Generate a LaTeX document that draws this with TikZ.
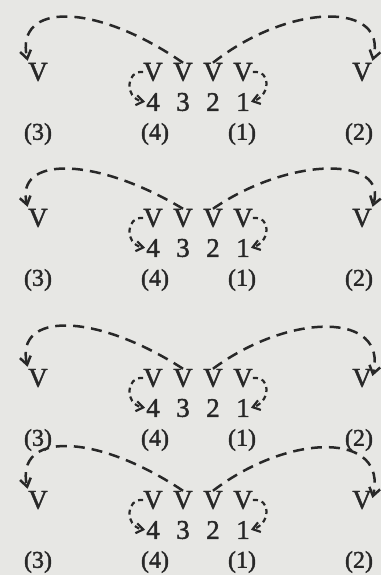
\documentclass[tikz,border=0pt]{standalone}
\usepackage{fontspec}
\setmainfont{Liberation Serif}
\newfontfamily\printface{Liberation Serif}[FakeBold=1.6]
\usetikzlibrary{arrows.meta}
\definecolor{paper}{RGB}{231,231,228}
\definecolor{ink}{RGB}{40,40,40}

\begin{document}
\begin{tikzpicture}[x=1pt,y=1pt]
	\tikzset{letter/.style={inner sep=0pt, text=ink, font=\printface\fontsize{27}{30}\selectfont},
		tag/.style={inner sep=0pt, text=ink, font=\printface\fontsize{24}{28}\selectfont},
		hop/.style={ink, line width=2.5pt, dash pattern=on 11pt off 7pt, shorten >=2pt,
			-{Straight Barb[length=8pt, width=11pt]}},
		curl/.style={ink, line width=2.2pt, dash pattern=on 5pt off 4pt, shorten >=1pt,
			-{Straight Barb[length=7pt, width=10pt]}}}
	\fill[paper] (0,0) rectangle (381,-575);
	\useasboundingbox (0,0) rectangle (381,-575);
	% one panel per row: V row height, arc control height, end anchor on the right
	\foreach \py/\cy/\ra [count=\i] in {72/70/north east, 218/62/north east, 378/66/east, 500/68/east} {
		\begin{scope}[shift={(0,-\py)}]
		% the V row
		\node[letter] (vl\i) at (38,0) {V};
		\node[letter] (v4\i) at (153,0) {V};
		\node[letter] (v3\i) at (183,0) {V};
		\node[letter] (v2\i) at (213,0) {V};
		\node[letter] (v1\i) at (243,0) {V};
		\node[letter] (vr\i) at (362,0) {V};
		% numbers
		\node[letter] (n4\i) at (153,-30) {4};
		\node[letter] (n3\i) at (183,-30) {3};
		\node[letter] (n2\i) at (213,-30) {2};
		\node[letter] (n1\i) at (243,-30) {1};
		% labels
		\node[tag] (t3\i) at (38,-62) {(3)};
		\node[tag] (t4\i) at (155,-62) {(4)};
		\node[tag] (t1\i) at (242,-62) {(1)};
		\node[tag] (t2\i) at (359,-62) {(2)};
		% big hops
		\draw[hop] (v3\i.north) .. controls (95,\cy) and (15,\cy) .. (vl\i.north west);
		\draw[hop] (v2\i.north) .. controls (290,\cy) and (388,\cy) .. (vr\i.\ra);
		% small curls
		\draw[curl] (v4\i.west) .. controls (126,2) and (124,-26) .. (n4\i.west);
		\draw[curl] (v1\i.east) .. controls (272,2) and (270,-24) .. (n1\i.east);
		\end{scope}
	}
\end{tikzpicture}
\end{document}
